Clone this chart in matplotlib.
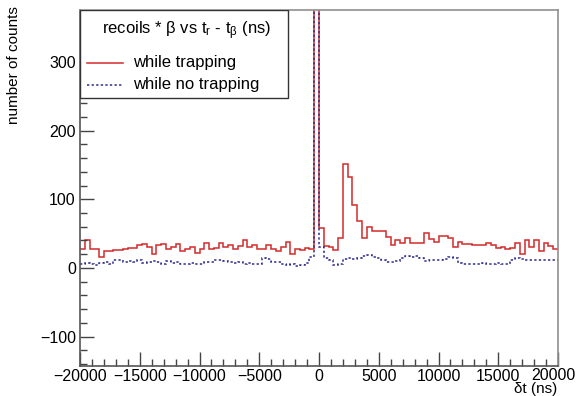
import numpy as np
import matplotlib
matplotlib.use("Agg")
import matplotlib.pyplot as plt
from matplotlib.ticker import MultipleLocator, FuncFormatter

plt.rcParams['font.family'] = ['Liberation Sans', 'DejaVu Sans']
plt.rcParams['mathtext.default'] = 'regular'

# histogram binning: 100 bins of 400 ns from -20000 to 20000
bin_edges = np.linspace(-20000, 20000, 101)

# counts while trapping (red)
trap_neg = [27, 41, 27, 27, 16, 24, 24, 26, 26, 28, 29, 29, 34, 35, 30, 21, 33, 35, 28, 31,
            35, 24, 27, 30, 22, 28, 36, 28, 29, 37, 31, 34, 28, 32, 40, 30, 33, 28, 27, 34,
            28, 25, 31, 38, 21, 28, 26, 29, 27]
trap_spike = [3000]
trap_pos = [58, 32, 30, 26, 43, 151, 132, 92, 69, 43, 60, 54, 54, 54, 45, 33, 41, 36, 43, 37,
            36, 36, 51, 42, 38, 46, 46, 44, 31, 38, 35, 35, 34, 34, 34, 36, 33, 29, 30, 27,
            29, 36, 21, 40, 30, 41, 25, 36, 32, 28]

# counts while no trapping (blue)
notrap_neg = [5, 7, 6, 4, 7, 8, 6, 11, 12, 9, 10, 8, 11, 7, 9, 10, 8, 6, 10, 7,
              8, 6, 6, 7, 5, 6, 8, 9, 11, 12, 10, 9, 7, 8, 6, 7, 5, 5, 14, 13,
              9, 8, 6, 4, 5, 3, 4, 7, 16]
notrap_spike = [3000]
notrap_pos = [31, 14, 12, 4, 6, 13, 14, 13, 15, 18, 19, 16, 15, 12, 9, 8, 10, 15, 17, 16,
              17, 14, 10, 12, 11, 11, 13, 16, 14, 7, 6, 5, 5, 6, 7, 6, 6, 7, 6, 6,
              11, 14, 13, 11, 12, 11, 12, 12, 12, 12]

trap = np.array(trap_neg + trap_spike + trap_pos)
notrap = np.array(notrap_neg + notrap_spike + notrap_pos)

red = '#d42a2a'
blue = '#2b2b8f'
dots = (0, (1.5, 1.5))

fig = plt.figure(figsize=(5.77, 3.96), dpi=100)
ax = fig.add_axes([80/577, 30/396, 478/577, 356/396])

ax.stairs(trap, bin_edges, baseline=None, color=red, lw=1.1)
ax.stairs(notrap, bin_edges, baseline=None, color=blue, lw=1.1, linestyle=dots)

ax.set_xlim(-20000, 20000)
ax.set_ylim(-143, 376)

# ROOT style frame
for s in ['top', 'right']:
    ax.spines[s].set_color('#909090')
for s in ['left', 'bottom']:
    ax.spines[s].set_color('#555555')
for s in ax.spines.values():
    s.set_linewidth(1.2)

ax.xaxis.set_major_locator(MultipleLocator(5000))
ax.xaxis.set_minor_locator(MultipleLocator(1000))
ax.yaxis.set_major_locator(MultipleLocator(100))
ax.yaxis.set_minor_locator(MultipleLocator(20))
ax.tick_params(which='both', direction='in', top=False, right=False, labelsize=11.5,
               color='#444444')
ax.tick_params(which='major', length=10, width=1)
ax.tick_params(which='minor', length=5, width=1)
ax.tick_params(axis='x', pad=2)
ax.tick_params(axis='y', pad=3)

def minus(v):
    return ('%d' % v).replace('-', '\u2212')

# last x label is placed by hand so it stays inside the picture
ax.xaxis.set_major_formatter(FuncFormatter(lambda v, p: '' if v >= 20000 else minus(v)))
ax.yaxis.set_major_formatter(FuncFormatter(lambda v, p: minus(v)))
fig.text(576/577, 1 - 376/396, minus(20000), ha='right', va='center', fontsize=11.5)

fig.text(14/577, 1 - 6/396, 'number of counts', rotation=90, ha='center', va='top', fontsize=11)
fig.text(557/577, 1 - 389/396, '\u03b4t (ns)', ha='right', va='center', fontsize=11)

# legend box drawn in ROOT fashion
H = 356.0
ax.add_patch(plt.Rectangle((0, 1 - 88/H), 208/478, 88/H, transform=ax.transAxes,
                           facecolor='white', edgecolor='#333333', lw=1.0, zorder=5))
ax.text(107/478, 1 - 24/H, r'recoils * $\beta$ vs t$_r$ - t$_{\beta}$ (ns)',
        transform=ax.transAxes, ha='center', va='baseline', fontsize=12, zorder=6)
ax.plot([7/478, 43/478], [1 - 53/H] * 2, transform=ax.transAxes, color=red, lw=1.1, zorder=6)
ax.text(53/478, 1 - 53/H, 'while trapping', transform=ax.transAxes,
        ha='left', va='center', fontsize=12, zorder=6)
ax.plot([7/478, 43/478], [1 - 75/H] * 2, transform=ax.transAxes, color=blue, lw=1.1,
        linestyle=dots, zorder=6)
ax.text(53/478, 1 - 75/H, 'while no trapping', transform=ax.transAxes,
        ha='left', va='center', fontsize=12, zorder=6)

fig.savefig('out.png', dpi=100)
